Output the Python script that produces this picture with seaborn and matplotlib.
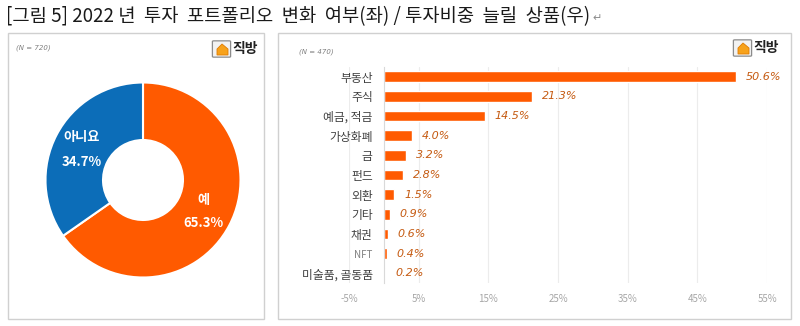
import matplotlib
matplotlib.use("Agg")
import matplotlib.pyplot as plt
import seaborn as sns
import pandas as pd
from matplotlib.patches import Rectangle, FancyBboxPatch, Polygon

sns.set_theme(style="white")
plt.rcParams['font.family'] = ['Noto Sans CJK KR', 'DejaVu Sans']

# ---- data ----
pie_labels = ["예", "아니요"]
pie_values = [65.3, 34.7]
pie_colors = ["#FF5A00", "#0C6DB8"]

categories = ["부동산", "주식", "예금, 적금", "가상화폐", "금", "펀드", "외환", "기타", "채권", "NFT", "미술품, 골동품"]
shares = [50.6, 21.3, 14.5, 4.0, 3.2, 2.8, 1.5, 0.9, 0.6, 0.4, 0.2]
x_ticks = [-5, 5, 15, 25, 35, 45, 55]

title = "[그림 5] 2022 년  투자  포트폴리오  변화  여부(좌) / 투자비중  늘릴  상품(우)"

W, H = 800, 326
fig = plt.figure(figsize=(W / 100, H / 100), dpi=100)
fig.patch.set_facecolor("white")

def fx(px):
    return px / W

def fy(py):
    return 1 - py / H

# title
t = fig.text(fx(6), fy(17), title, fontsize=13.5, color="#1a1a1a", va="center", ha="left")
fig.canvas.draw()
bb = t.get_window_extent(renderer=fig.canvas.get_renderer())
fig.text(bb.x1 / W + fx(2), fy(18), "↵", fontsize=8, color="#8c8c8c", va="center", ha="left",
         family="DejaVu Sans")

# panel boxes
for (x0, y0, x1, y1) in [(8, 33, 264, 319), (278, 33, 791, 319)]:
    fig.add_artist(Rectangle((fx(x0), fy(y1)), fx(x1) - fx(x0), fy(y0) - fy(y1),
                             transform=fig.transFigure, facecolor="white",
                             edgecolor="#d0d0d0", linewidth=1.0, zorder=0))

# N labels
fig.text(fx(16), fy(48), "(N = 720)", fontsize=5, style="italic", color="#7f7f7f",
         va="center", family="DejaVu Sans")
fig.text(fx(299), fy(52), "(N = 470)", fontsize=5, style="italic", color="#7f7f7f",
         va="center", family="DejaVu Sans")

# logos
def logo(xp, yp):
    s = 15
    fig.add_artist(FancyBboxPatch((fx(xp), fy(yp + s / 2)), fx(s), fy(0) - fy(s),
                                  boxstyle="round,pad=0.002", transform=fig.transFigure,
                                  facecolor="#f2f2f2", edgecolor="#8c8c8c", linewidth=0.9))
    house = [(xp + 3, yp + 6), (xp + 3, yp), (xp + 8, yp - 5), (xp + 14, yp), (xp + 14, yp + 6)]
    fig.add_artist(Polygon([(fx(a), fy(b)) for a, b in house], closed=True,
                           transform=fig.transFigure, facecolor="#F7A21B",
                           edgecolor="#E07B00", linewidth=0.6))
    fig.text(fx(xp + 18), fy(yp), "직방", fontsize=10, fontweight="bold",
             color="#222222", va="center", ha="left")

logo(214, 49)
logo(735, 48)

# ---- donut ----
cx, cy, r = 143, 180, 97.5
ax1 = fig.add_axes([fx(cx - r), fy(cy + r), fx(2 * r), fy(0) - fy(2 * r)])
ax1.pie(pie_values, colors=pie_colors, startangle=90, counterclock=False,
        radius=1.0, wedgeprops=dict(width=0.59, edgecolor="white", linewidth=1.5))
ax1.set_xlim(-1, 1)
ax1.set_ylim(-1, 1)
ax1.set_aspect("equal")
ax1.axis("off")

label_pos = {"예": (203, 200, 223), "아니요": (82, 137, 162)}
for lab, val in zip(pie_labels, pie_values):
    px, py1, py2 = label_pos[lab]
    fig.text(fx(px), fy(py1), lab, fontsize=9.5, fontweight="bold", color="white", ha="center", va="center")
    fig.text(fx(px), fy(py2), f"{val:.1f}%", fontsize=9.5, fontweight="bold", color="white", ha="center", va="center")

# ---- bars ----
ax2 = fig.add_axes([fx(349), fy(283), fx(767) - fx(349), fy(67) - fy(283)])
df = pd.DataFrame({"cat": categories, "val": shares})
sns.barplot(data=df, x="val", y="cat", color="#FF5A00", width=0.55, ax=ax2,
            orient="h", saturation=1)
ax2.set_xlim(-5, 55)
ax2.set_xticks(x_ticks)
ax2.set_xticklabels([f"{t}%" for t in x_ticks], fontsize=7, color="#a6a6a6")
ax2.grid(axis="x", color="#ececec", linewidth=0.8)
ax2.set_axisbelow(True)
for s in ["top", "right", "bottom"]:
    ax2.spines[s].set_visible(False)
ax2.spines["left"].set_position(("data", 0))
ax2.spines["left"].set_color("#d9d9d9")
ax2.spines["left"].set_linewidth(0.8)
ax2.tick_params(axis="y", length=0, pad=8, labelsize=8.5, labelcolor="#404040")
ax2.tick_params(axis="x", length=0, pad=8)
ax2.set_xlabel("")
ax2.set_ylabel("")
ax2.set_ylim(len(categories) - 0.5, -0.5)
for tl in ax2.get_yticklabels():
    if tl.get_text() == "NFT":
        tl.set_fontsize(7)
        tl.set_color("#808080")

for i, v in enumerate(shares):
    ax2.annotate(f"{v:.1f}%", (v, i), xytext=(7, 0), textcoords="offset points",
                 va="center", ha="left", fontsize=8, style="italic", color="#C55A11",
                 family="DejaVu Sans")

fig.savefig("out.png", dpi=100, facecolor="white")
